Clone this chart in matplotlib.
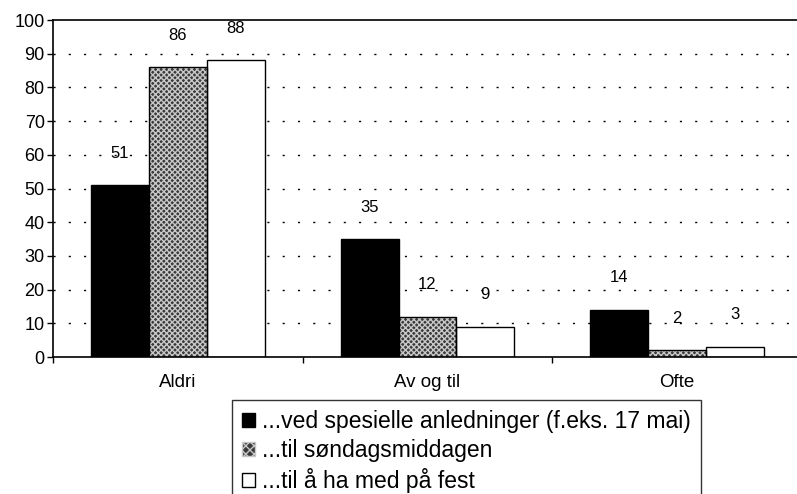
"""
Grouped bar chart: Aldri / Av og til / Ofte
"""

import matplotlib.pyplot as plt
import numpy as np
from matplotlib.patches import Patch

plt.rcParams['font.family'] = ['Liberation Sans', 'DejaVu Sans']

categories = ['Aldri', 'Av og til', 'Ofte']
spesielle = [51, 35, 14]
sondag = [86, 12, 2]
fest = [88, 9, 3]
series_labels = ['...ved spesielle anledninger (f.eks. 17 mai)',
                 '...til søndagsmiddagen',
                 '...til å ha med på fest']
yticks = [0, 10, 20, 30, 40, 50, 60, 70, 80, 90, 100]

fig = plt.figure(figsize=(7.97, 4.94), dpi=100)
ax = fig.add_axes([53/797, 1-357/494, (802-53)/797, (357-20)/494])

x = np.arange(len(categories))
w = 0.232

# gridlines (sparse dots)
for y in yticks[1:-1]:
    ax.axhline(y, color='black', lw=1, ls=(0, (1.5, 9.5)), zorder=0)

ax.bar(x - w, spesielle, w, color='black', edgecolor='black', lw=1, zorder=2)
# hatched gray bar: fill + light hatch, then black outline
ax.bar(x, sondag, w, color='#3a3a3a', edgecolor='#c8c8c8', hatch='xxxxxx', lw=0, zorder=2)
ax.bar(x, sondag, w, fill=False, edgecolor='black', lw=1, zorder=3)
ax.bar(x + w, fest, w, color='white', edgecolor='black', lw=1, zorder=2)

for vals, offs in [(spesielle, -w), (sondag, 0), (fest, w)]:
    for xi, v in zip(x, vals):
        ax.annotate(str(v), (xi + offs, v), xytext=(0, 23), textcoords='offset points',
                    ha='center', va='center', fontsize=12)

ax.set_ylim(0, 100)
ax.set_xlim(-0.5, 2.5)
ax.set_yticks(yticks)
ax.tick_params(axis='y', labelsize=13, length=4, width=1, pad=2)
ax.set_xticks([-0.5, 0.5, 1.5, 2.5])
ax.set_xticklabels([])
ax.set_xticks(x, minor=True)
ax.set_xticklabels(categories, minor=True, fontsize=13.5)
ax.tick_params(axis='x', which='major', length=4, width=1)
ax.tick_params(axis='x', which='minor', length=0, pad=12)

ax.spines['right'].set_visible(False)
for s in ['top', 'left', 'bottom']:
    ax.spines[s].set_linewidth(1.2)

handles = [Patch(facecolor='black', edgecolor='black'),
           Patch(facecolor='#3a3a3a', edgecolor='#c8c8c8', hatch='xxxx'),
           Patch(facecolor='white', edgecolor='black')]
leg = fig.legend(handles, series_labels, loc='upper left',
                 bbox_to_anchor=(232/797, 1-400/494), frameon=True,
                 fancybox=False, edgecolor='black', fontsize=16.5,
                 handlelength=0.55, handleheight=0.55, handletextpad=0.3,
                 labelspacing=0.25, borderpad=0.45, borderaxespad=0)
leg.get_frame().set_linewidth(1)

fig.savefig('out.png', dpi=100)
